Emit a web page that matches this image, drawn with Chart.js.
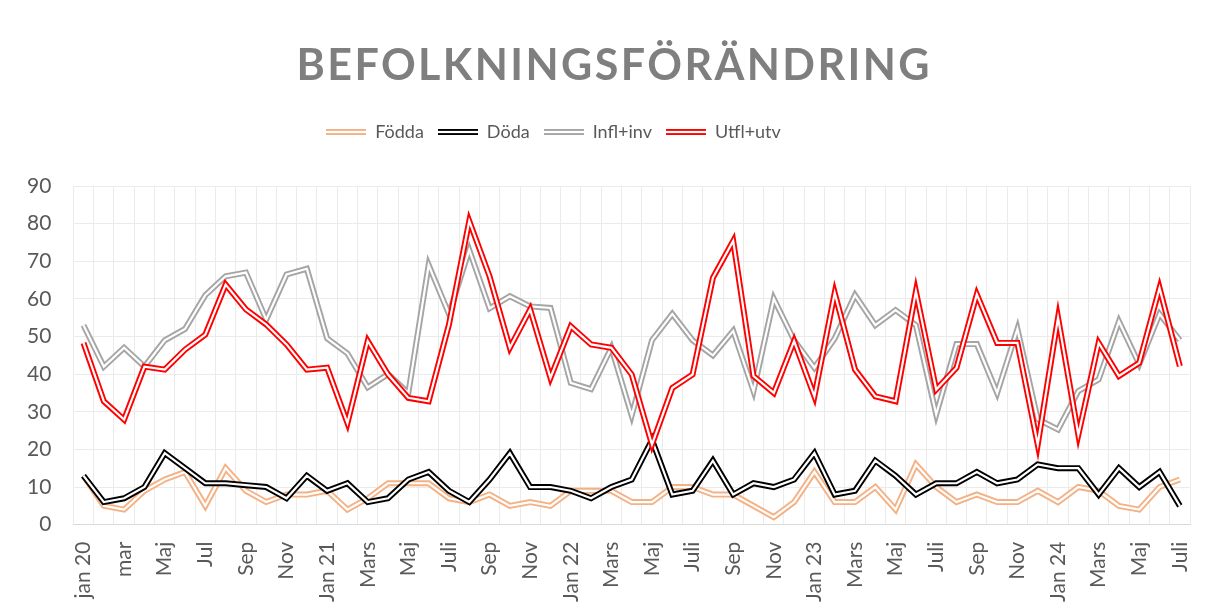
<!DOCTYPE html>
<html lang="sv">
<head>
<meta charset="utf-8">
<title>Befolkningsförändring</title>
<script src="https://cdn.jsdelivr.net/npm/chart.js@4.4.1/dist/chart.umd.min.js"></script>
<style>
  html, body { margin: 0; padding: 0; background: #fff; }
  #wrap { position: relative; width: 1209px; height: 612px; }
</style>
</head>
<body>
<div id="wrap"><canvas id="myChart"></canvas></div>
<script>
// månader jan 2020 - juli 2024, bara varannan etikett visas
const months = [
  'jan 20', 'feb', 'mar', 'apr', 'Maj', 'jun', 'Jul', 'aug', 'Sep', 'okt', 'Nov', 'dec',
  'Jan 21', 'Feb', 'Mars', 'April', 'Maj', 'Juni', 'Juli', 'Aug', 'Sep', 'Okt', 'Nov', 'Dec',
  'Jan 22', 'Feb', 'Mars', 'April', 'Maj', 'Juni', 'Juli', 'Aug', 'Sep', 'Okt', 'Nov', 'Dec',
  'Jan 23', 'Feb', 'Mars', 'April', 'Maj', 'Juni', 'Juli', 'Aug', 'Sep', 'Okt', 'Nov', 'Dec',
  'Jan 24', 'Feb', 'Mars', 'April', 'Maj', 'Juni', 'Juli'
];

const fodda = [
  13, 5, 4, 9, 12, 14, 5, 15, 9, 6, 8, 8,
  9, 4, 7, 11, 11, 11, 7, 6, 8, 5, 6, 5,
  9, 9, 9, 6, 6, 10, 10, 8, 8, 5, 2, 6,
  14, 6, 6, 10, 4, 16, 10, 6, 8, 6, 6, 9,
  6, 10, 9, 5, 4, 10, 12
];
const doda = [
  13, 6, 7, 10, 19, 15, 11, 11, 10.5, 10, 7, 13,
  9, 11, 6, 7, 12, 14, 9, 6, 12, 19, 10, 10,
  9, 7, 10, 12, 22.5, 8, 9, 17, 8, 11, 10, 12,
  19, 8, 9, 17, 13, 8, 11, 11, 14, 11, 12, 16,
  15, 15, 8, 15, 10, 14, 5
];
const inflytt = [
  53, 42, 47, 42, 49, 52, 61, 66, 67, 54.5, 66.5, 68,
  49.5, 45.5, 36.5, 40, 35, 69, 56, 73, 57.5, 60.7, 58, 57.6,
  37.7, 36, 47, 29, 49, 56, 49, 45, 51.5, 35.5, 60, 49,
  41.7, 49.5, 61, 53, 57, 53, 29.3, 48, 48, 35, 52, 28,
  25.3, 35.5, 38.6, 54, 42.6, 56, 49
];
const utflytt = [
  48.3, 32.8, 27.9, 42, 41.2, 46.5, 50.5, 63.8, 57.2, 53.2, 47.9, 41.2,
  41.7, 27, 48.8, 39.9, 33.7, 32.8, 53.2, 80.7, 66, 47, 57.2, 39,
  52.7, 47.9, 47, 39.9, 21.3, 36.3, 39.9, 65.6, 75.4, 39.5, 35, 48.8,
  34.1, 61.6, 41.2, 34.1, 32.8, 62, 35.9, 41.7, 61.2, 48.3, 48.3, 21.3,
  55, 23.9, 48.3, 39.5, 43, 62.9, 42.1
];

const seriesNames = ['Födda', 'Döda', 'Infl+inv', 'Utfl+utv'];
const seriesColors = ['#f4b183', '#000000', '#a5a5a5', '#ff0000'];
const seriesData = [fodda, doda, inflytt, utflytt];

const FONT = 'Lato, "Open Sans", sans-serif';
const LINE_W = 6;
const GAP_W = 2.2;

// liten bild av en dubbellinje till förklaringen
const makeSample = (color) => {
  const c = document.createElement('canvas');
  c.width = 40;
  c.height = 8;
  const g = c.getContext('2d');
  g.fillStyle = color;
  g.fillRect(0, 4 - LINE_W / 2, 40, LINE_W);
  g.fillStyle = '#fff';
  g.fillRect(0, 4 - GAP_W / 2, 40, GAP_W);
  return c;
};

// vit linje i mitten -> Excel-liknande dubbellinje
const doubleLine = {
  id: 'doubleLine',
  afterDatasetDraw(chart, args) {
    const pts = args.meta.data;
    const ctx = chart.ctx;
    ctx.save();
    ctx.beginPath();
    pts.forEach((p, i) => i === 0 ? ctx.moveTo(p.x, p.y) : ctx.lineTo(p.x, p.y));
    ctx.lineWidth = GAP_W;
    ctx.lineJoin = 'miter';
    ctx.strokeStyle = '#fff';
    ctx.stroke();
    ctx.restore();
  }
};

// rubrik med spärrad text
const spacedTitle = {
  id: 'spacedTitle',
  afterDraw(chart, args, opts) {
    const ctx = chart.ctx;
    ctx.save();
    ctx.font = opts.font;
    ctx.fillStyle = opts.color;
    ctx.textBaseline = 'alphabetic';
    ctx.textAlign = 'left';
    const plain = ctx.measureText(opts.text).width;
    const gap = Math.max(0, (opts.width - plain) / (opts.text.length - 1));
    ctx.letterSpacing = gap + 'px';
    ctx.fillText(opts.text, opts.centerX - opts.width / 2, opts.y);
    ctx.restore();
  }
};

// mer luft under förklaringen, och flytta den lite åt vänster
const legendSpace = {
  id: 'legendSpace',
  beforeInit(chart) {
    const fit = chart.legend.fit;
    chart.legend.fit = function () {
      fit.call(this);
      this.height += 35;
    };
  },
  afterLayout(chart) {
    chart.legend.left -= 44;
    chart.legend.right -= 44;
  }
};

const datasets = seriesNames.map((name, i) => ({
  label: name,
  data: seriesData[i],
  borderColor: seriesColors[i],
  backgroundColor: seriesColors[i],
  borderWidth: LINE_W,
  borderJoinStyle: 'miter',
  pointRadius: 0,
  pointHoverRadius: 0,
  pointStyle: makeSample(seriesColors[i]),
  tension: 0,
  fill: false,
  order: seriesNames.length - i
}));

let ctx = document.getElementById('myChart');

const config = {
  type: 'line',
  data: {
    labels: months,
    datasets: datasets
  },
  options: {
    responsive: true,
    maintainAspectRatio: false,
    animation: false,
    layout: {
      padding: { top: 109, left: 5, right: 19, bottom: -7 }
    },
    plugins: {
      spacedTitle: {
        text: 'BEFOLKNINGSFÖRÄNDRING',
        font: 'bold 43px ' + FONT,
        color: '#7f7f7f',
        width: 633,
        centerX: 613,
        y: 80
      },
      legend: {
        display: true,
        position: 'top',
        labels: {
          usePointStyle: true,
          pointStyleWidth: 40,
          padding: 14,
          color: '#595959',
          font: { family: FONT, size: 18 },
          sort: (a, b) => a.datasetIndex - b.datasetIndex
        }
      },
      tooltip: { enabled: false }
    },
    scales: {
      x: {
        offset: true,
        grid: {
          display: true,
          offset: true,
          color: '#ebebeb',
          lineWidth: 1,
          drawTicks: false
        },
        border: { color: '#d9d9d9' },
        ticks: {
          autoSkip: false,
          minRotation: 90,
          maxRotation: 90,
          padding: 17,
          color: '#595959',
          font: { family: FONT, size: 21 },
          callback: (v, i) => i % 2 === 0 ? months[i] : ''
        },
        // sista etiketten får inte krympa ritytan
        afterFit: (scale) => {
          scale.paddingRight = 0;
        }
      },
      y: {
        min: 0,
        max: 90,
        grid: {
          color: '#ebebeb',
          lineWidth: 1,
          drawTicks: false
        },
        border: { display: false },
        ticks: {
          stepSize: 10,
          padding: 22,
          color: '#595959',
          font: { family: FONT, size: 21 }
        }
      }
    }
  },
  plugins: [doubleLine, spacedTitle, legendSpace]
};

let myChart = new Chart(ctx, config);
</script>
</body>
</html>
